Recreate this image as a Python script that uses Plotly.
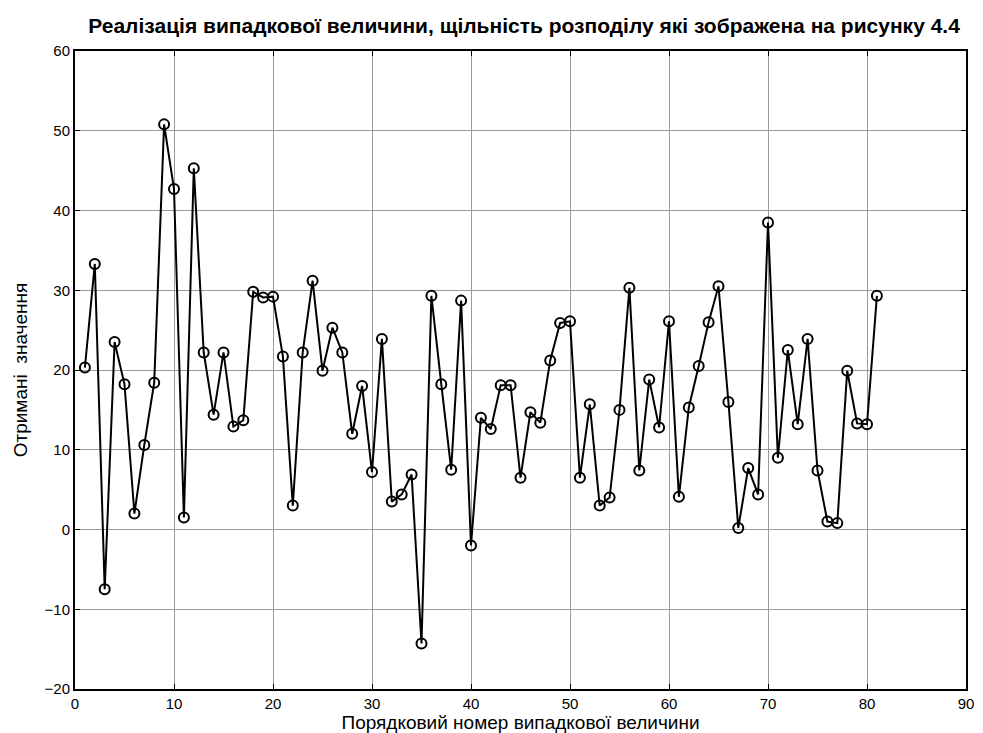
import plotly.graph_objects as go

index = list(range(1, 82))
values = [
    20.3, 33.3, -7.5, 23.5, 18.2, 2.0, 10.6, 18.4, 50.8, 42.7,
    1.5, 45.3, 22.2, 14.4, 22.2, 12.9, 13.7, 29.8, 29.1, 29.2,
    21.7, 3.0, 22.2, 31.2, 19.9, 25.3, 22.2, 12.0, 18.0, 7.2,
    23.9, 3.5, 4.4, 6.9, -14.3, 29.3, 18.2, 7.5, 28.7, -2.0,
    14.0, 12.6, 18.1, 18.1, 6.5, 14.7, 13.4, 21.2, 25.9, 26.1,
    6.5, 15.7, 3.0, 4.0, 15.0, 30.3, 7.4, 18.8, 12.8, 26.1,
    4.1, 15.3, 20.5, 26.0, 30.5, 16.0, 0.2, 7.7, 4.4, 38.5,
    9.0, 22.5, 13.2, 23.9, 7.4, 1.0, 0.8, 19.9, 13.3, 13.2,
    29.3,
]
x_ticks = [0, 10, 20, 30, 40, 50, 60, 70, 80, 90]
y_ticks = [-20, -10, 0, 10, 20, 30, 40, 50, 60]

title_text = "Реалізація випадкової величини, щільність розподілу які зображена на рисунку 4.4"
x_title = "Порядковий номер випадкової величини"
y_title = "Отримані  значення"

fig = go.Figure()
fig.add_trace(go.Scatter(
    x=index, y=values, mode="lines+markers",
    line=dict(color="black", width=2),
    marker=dict(symbol="circle-open", size=10, color="black", line=dict(width=2)),
    showlegend=False,
))

font = "Liberation Sans, Arial, sans-serif"
axis_common = dict(
    showline=True, linecolor="black", linewidth=2, mirror="ticks",
    ticks="inside", ticklen=5, tickcolor="black", tickwidth=1,
    showgrid=True, gridcolor="#9a9a9a", gridwidth=1,
    zeroline=False,
    tickfont=dict(family=font, size=15, color="black"),
)

fig.update_layout(
    width=983, height=733,
    margin=dict(l=67, r=25, t=43, b=52),
    paper_bgcolor="white", plot_bgcolor="white",
    title=dict(text="<b>" + title_text + "</b>", x=0.525, xanchor="center",
               y=0.986, yanchor="top",
               font=dict(family=font, size=21, color="black")),
    xaxis=dict(range=[0, 90], tickvals=x_ticks,
               title=dict(text=x_title, font=dict(family=font, size=19, color="black"), standoff=3),
               **axis_common),
    yaxis=dict(range=[-20, 60], tickvals=y_ticks,
               title=dict(text=y_title, font=dict(family=font, size=19, color="black"), standoff=12),
               **axis_common),
)

fig.write_html("out.html")
